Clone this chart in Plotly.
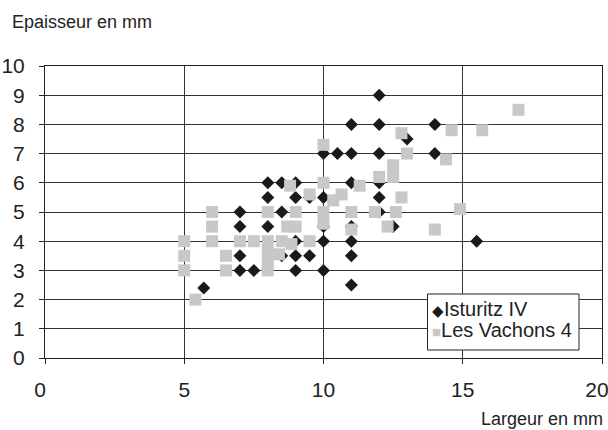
import plotly.graph_objects as go

# Isturitz IV (black diamonds)
isturitz_x = [5.7, 7, 7, 7, 7, 7.5, 8, 8, 8, 8.5, 8.5, 8.5, 9, 9, 9, 9, 9,
              9.5, 9.5, 10, 10, 10, 10, 10, 10.5, 11, 11, 11, 11, 11, 11, 11,
              12, 12, 12, 12, 12, 12, 12.5, 13, 14, 14, 15.5]
isturitz_y = [2.4, 5, 4.5, 3.5, 3, 3, 6, 5.5, 4.5, 6, 5, 3.5, 6, 5.5, 4, 3.5, 3,
              5.5, 3.5, 7, 5.5, 4.5, 4, 3, 7, 8, 7, 6, 4.5, 4, 3.5, 2.5,
              9, 8, 7, 6, 5.5, 5, 4.5, 7.5, 8, 7, 4]

# Les Vachons 4 (grey squares)
vachons_x = [5, 5, 5, 5.4, 6, 6, 6, 6.5, 6.5, 7, 7.5, 8, 8, 8, 8, 8, 8.4, 8.5,
             8.8, 8.85, 8.7, 9, 9, 9.5, 9.5, 10, 10, 10, 10, 10.35, 10.65,
             11, 11, 11.3, 11.85, 12, 12.3, 12.5, 12.5, 12.6, 12.8, 12.8, 13,
             14, 14.4, 14.6, 14.9, 15.7, 17]
vachons_y = [4, 3.5, 3, 2, 5, 4.5, 4, 3.5, 3, 4, 4, 5, 4, 3.6, 3.25, 3.0, 3.55, 4,
             5.9, 3.9, 4.5, 4.5, 5, 5.6, 4, 7.3, 6, 5, 4.6, 5.4, 5.6,
             5, 4.4, 5.9, 5, 6.2, 4.5, 6.6, 6.2, 5, 7.7, 5.5, 7,
             4.4, 6.8, 7.8, 5.1, 7.8, 8.5]

series_names = ["Isturitz IV", "Les Vachons 4"]
series_colors = ["#1a1a1a", "#c8c8c8"]
legend_glyphs = ["\u25C6", "\u25A0"]

x_ticks = [0, 5, 10, 15, 20]
x_inner_labels = ["", "5", "10", "15", ""]     # drawn centred on the ticks
x_edge_ticks = [0, 20]                        # end labels, nudged inward
x_edge_labels = ["0", "20"]
y_ticks = list(range(0, 11))

FONT = "Liberation Sans, Arial, sans-serif"
TEXT = "#222222"

# plot-area geometry in pixels (for placing the free text)
L, R, T, B = 45, 6, 66, 72
W, H = 608, 430
PW, PH = W - L - R, H - T - B


def px_x(p):
    return (p - L) / PW


def px_y(p):
    return (H - B - p) / PH


fig = go.Figure()
fig.add_trace(go.Scatter(
    x=isturitz_x, y=isturitz_y, mode="markers", name=series_names[0],
    marker=dict(symbol="diamond", size=10, color=series_colors[0], line=dict(width=0)),
))
fig.add_trace(go.Scatter(
    x=vachons_x, y=vachons_y, mode="markers", name=series_names[1], xaxis="x2",
    marker=dict(symbol="square", size=12, color=series_colors[1], line=dict(width=0)),
))

annotations = [
    dict(text="Epaisseur en mm", x=px_x(10), y=px_y(22), xref="paper", yref="paper",
         showarrow=False, xanchor="left", yanchor="middle", font=dict(size=18)),
    dict(text="Largeur en mm", x=px_x(605), y=px_y(419), xref="paper", yref="paper",
         showarrow=False, xanchor="right", yanchor="middle", font=dict(size=18)),
]
legend_rows = [309, 330]
for name, col, glyph, row in zip(series_names, series_colors, legend_glyphs, legend_rows):
    annotations.append(dict(
        text=f'<span style="color:{col};font-size:15px">{glyph}</span>{name}',
        x=px_x(430), y=px_y(row), xref="paper", yref="paper",
        showarrow=False, xanchor="left", yanchor="middle",
        font=dict(size=20, color=TEXT),
    ))

fig.update_layout(
    width=W, height=H, autosize=False,
    margin=dict(l=L, r=R, t=T, b=B, autoexpand=False),
    paper_bgcolor="white", plot_bgcolor="white",
    font=dict(family=FONT, size=21, color=TEXT),
    showlegend=False,
    annotations=annotations,
    shapes=[dict(type="rect", xref="paper", yref="paper",
                 x0=px_x(427.5), x1=px_x(579), y0=px_y(350), y1=px_y(294),
                 fillcolor="white", line=dict(color=TEXT, width=1), layer="above")],
    xaxis=dict(
        range=[0, 20], tickvals=x_ticks, ticktext=x_inner_labels,
        showgrid=True, gridcolor="#333333", gridwidth=1,
        showline=True, linecolor=TEXT, linewidth=1, mirror=True,
        ticks="outside", ticklen=5, tickcolor=TEXT, ticklabelstandoff=8,
        ticklabeloverflow="allow", automargin=False,
        zeroline=False, fixedrange=True,
    ),
    xaxis2=dict(
        range=[0, 20], overlaying="x", anchor="y", side="bottom",
        tickvals=x_edge_ticks, ticktext=x_edge_labels, ticklabelshift=-5,
        showgrid=False, showline=False, zeroline=False,
        ticks="outside", ticklen=5, tickcolor=TEXT, ticklabelstandoff=8,
        ticklabeloverflow="allow", automargin=False, fixedrange=True,
    ),
    yaxis=dict(
        range=[0, 10], tickvals=y_ticks, ticktext=[str(v) for v in y_ticks],
        showgrid=True, gridcolor="#333333", gridwidth=1,
        showline=True, linecolor=TEXT, linewidth=1, mirror=True,
        ticks="outside", ticklen=5, tickcolor=TEXT, ticklabelstandoff=10,
        ticklabeloverflow="allow", automargin=False,
        zeroline=False, fixedrange=True,
    ),
)

fig.write_html(
    "out.html",
    config={"responsive": False, "displayModeBar": False},
    post_script="document.body.style.margin='0';document.body.style.overflow='hidden';",
)
